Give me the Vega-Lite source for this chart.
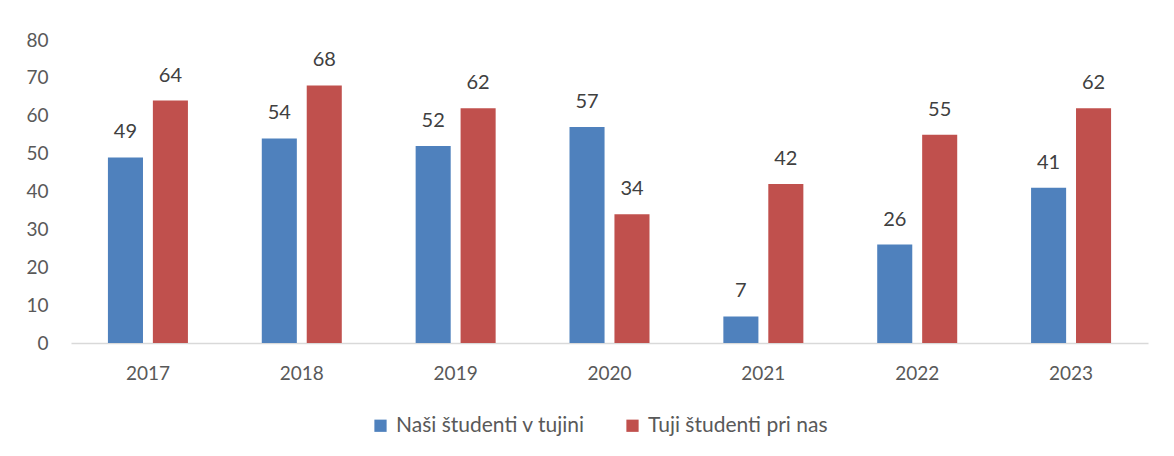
{
  "$schema": "https://vega.github.io/schema/vega-lite/v6.json",
  "autosize": {"type": "none"},
  "width": 1077,
  "height": 303,
  "padding": {"left": 71, "top": 40, "right": 26, "bottom": 113},
  "background": "white",
  "data": {
    "values": [
      {"leto": "2017", "serija": "Naši študenti v tujini", "vrednost": 49},
      {"leto": "2017", "serija": "Tuji študenti pri nas", "vrednost": 64},
      {"leto": "2018", "serija": "Naši študenti v tujini", "vrednost": 54},
      {"leto": "2018", "serija": "Tuji študenti pri nas", "vrednost": 68},
      {"leto": "2019", "serija": "Naši študenti v tujini", "vrednost": 52},
      {"leto": "2019", "serija": "Tuji študenti pri nas", "vrednost": 62},
      {"leto": "2020", "serija": "Naši študenti v tujini", "vrednost": 57},
      {"leto": "2020", "serija": "Tuji študenti pri nas", "vrednost": 34},
      {"leto": "2021", "serija": "Naši študenti v tujini", "vrednost": 7},
      {"leto": "2021", "serija": "Tuji študenti pri nas", "vrednost": 42},
      {"leto": "2022", "serija": "Naši študenti v tujini", "vrednost": 26},
      {"leto": "2022", "serija": "Tuji študenti pri nas", "vrednost": 55},
      {"leto": "2023", "serija": "Naši študenti v tujini", "vrednost": 41},
      {"leto": "2023", "serija": "Tuji študenti pri nas", "vrednost": 62}
    ]
  },
  "encoding": {
    "x": {
      "field": "leto", "type": "nominal",
      "scale": {"paddingInner": 0.48, "paddingOuter": 0.24},
      "axis": {"title": null, "labelAngle": 0, "labelFontSize": 19, "labelColor": "#595959",
               "labelFont": "Lato", "ticks": false, "domainColor": "#d9d9d9", "domainWidth": 1.5, "labelPadding": 21}
    },
    "xOffset": {"field": "serija", "type": "nominal", "scale": {"paddingInner": 0.22}},
    "y": {
      "field": "vrednost", "type": "quantitative",
      "scale": {"domain": [0, 80]},
      "axis": {"title": null, "values": [0,10,20,30,40,50,60,70,80], "grid": false, "domain": false, "ticks": false,
               "labelFontSize": 19, "labelColor": "#595959", "labelFont": "Lato", "labelPadding": 23}
    }
  },
  "layer": [
    {
      "mark": {"type": "bar"},
      "encoding": {
        "color": {
          "field": "serija", "type": "nominal",
          "scale": {"domain": ["Naši študenti v tujini", "Tuji študenti pri nas"], "range": ["#4F81BD", "#C0504D"]},
          "legend": {"title": null, "orient": "none", "legendX": 299, "legendY": 375, "direction": "horizontal", "symbolType": "square",
                     "symbolSize": 150, "symbolStrokeWidth": 0, "labelFontSize": 21, "labelColor": "#595959",
                     "labelFont": "Lato", "labelLimit": 400, "columnPadding": 36, "labelOffset": 5}
        }
      }
    },
    {
      "mark": {"type": "text", "dy": -25, "fontSize": 20, "color": "#404040", "font": "Lato", "baseline": "middle"},
      "encoding": {"text": {"field": "vrednost", "type": "quantitative"}}
    }
  ],
  "config": {"view": {"stroke": null}}
}
